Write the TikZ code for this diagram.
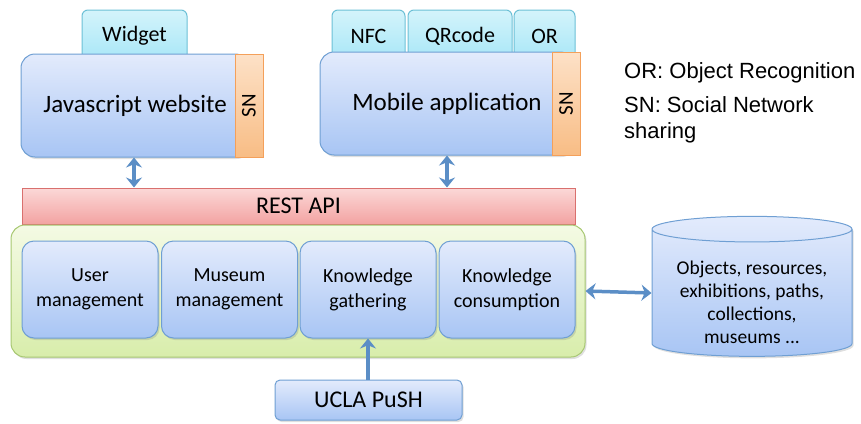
\documentclass[tikz,border=0pt]{standalone}
\usepackage{fontspec}
\setmainfont{Carlito}
\newfontfamily\legendfont{Liberation Sans}
\usetikzlibrary{shapes.geometric,arrows.meta,shadows}

\definecolor{boxtop}{HTML}{E3EBFC}
\definecolor{boxbot}{HTML}{A8C5F4}
\definecolor{boxedge}{HTML}{6F9FD3}
\definecolor{tabtop}{HTML}{D4F4FB}
\definecolor{tabbot}{HTML}{A6E6F7}
\definecolor{tabedge}{HTML}{6CC0D6}
\definecolor{sntop}{HTML}{FDE1C7}
\definecolor{snbot}{HTML}{F8BD85}
\definecolor{snedge}{HTML}{F4A05A}
\definecolor{resttop}{HTML}{FBD8D7}
\definecolor{restbot}{HTML}{F3A3A2}
\definecolor{restedge}{HTML}{D9706E}
\definecolor{coretop}{HTML}{F4FAE4}
\definecolor{corebot}{HTML}{D8EDAB}
\definecolor{coreedge}{HTML}{A7C871}
\definecolor{linkblue}{HTML}{5B8EC6}

\tikzset{
  softshadow/.style={drop shadow={opacity=0.25, shadow xshift=1.5pt, shadow yshift=-2pt}},
  bluebox/.style={draw=boxedge, top color=boxtop, bottom color=boxbot, line width=1pt,
    rounded corners=12pt, inner sep=0pt, align=center, softshadow},
  tabbox/.style={draw=tabedge, top color=tabtop, bottom color=tabbot, line width=1pt,
    rounded corners=6pt, inner sep=0pt, font=\fontsize{22}{26}\selectfont},
  snbox/.style={draw=snedge, top color=sntop, bottom color=snbot, line width=1pt,
    inner sep=0pt, minimum width=103, minimum height=28, font=\fontsize{21}{25}\selectfont},
  modulebox/.style={bluebox, minimum width=136, minimum height=97, font=\fontsize{20}{25}\selectfont},
  link/.style={<->, draw=linkblue, line width=3.5pt},
}

\begin{document}
\begin{tikzpicture}[x=1pt,y=-1pt,>={Stealth[length=10pt,width=16pt]}]
\useasboundingbox (0,0) rectangle (861,423);

% Tabs above the clients
\node[tabbox, minimum width=105, minimum height=52] (widget) at (134.5,36) {Widget};
\node[tabbox, minimum width=73, minimum height=52] (nfc) at (368.5,36) {NFC};
\node[tabbox, minimum width=104, minimum height=52] (qrcode) at (460,36) {QRcode};
\node[tabbox, minimum width=61, minimum height=52] (objrec) at (544.5,36) {OR};

% Clients
\node[bluebox, rounded corners=14pt, minimum width=228, minimum height=103,
  font=\fontsize{25}{30}\selectfont] (website) at (135,105.5) {Javascript website};
\node[snbox, rotate=90] (websn) at (249,105.5) {SN};
\node[bluebox, rounded corners=14pt, minimum width=254, minimum height=103,
  font=\fontsize{25}{30}\selectfont] (mobile) at (447,103.5) {Mobile application};
\node[snbox, rotate=90] (mobsn) at (566,103.5) {SN};

% Server
\node[draw=restedge, top color=resttop, bottom color=restbot, line width=1pt,
  minimum width=553, minimum height=36, inner sep=0pt,
  font=\fontsize{24}{28}\selectfont] (rest) at (298.5,206) {REST API};
\node[draw=coreedge, top color=coretop, bottom color=corebot, line width=1pt,
  rounded corners=14pt, minimum width=574, minimum height=132, softshadow] (core) at (298,291) {};
\node[modulebox] (user) at (90,289.5) {User\\management};
\node[modulebox] (museum) at (229.5,289.5) {Museum\\management};
\node[modulebox] (gather) at (368,289.5) {Knowledge\\gathering};
\node[modulebox] (consume) at (507,289.5) {Knowledge\\consumption};

\node[bluebox, rounded corners=5pt, minimum width=187, minimum height=40,
  font=\fontsize{24}{28}\selectfont] (push) at (368.5,400) {UCLA PuSH};

% Data store
\node[cylinder, shape border rotate=90, aspect=0.17, draw=boxedge, line width=1pt,
  top color=boxtop, bottom color=boxbot, minimum width=200, minimum height=140,
  inner sep=0pt, softshadow, font=\fontsize{19.5}{23}\selectfont]
  (store) at (752,293) {\raisebox{-11pt}[\height][\depth]{\begin{tabular}{@{}c@{}}Objects, resources,\\exhibitions, paths,\\collections,\\museums ...\end{tabular}}};

% Legend
\node[anchor=west, inner sep=0pt, font=\legendfont\fontsize{22}{26}\selectfont] (legor) at (624,73) {OR: Object Recognition};
\node[anchor=north west, inner sep=0pt, align=left, font=\legendfont\fontsize{22}{26}\selectfont]
  (legsn) at (624,96) {SN: Social Network\\sharing};

% Links
\draw[link] (website.south -| 134,0) -- (rest.north -| 134,0);
\draw[link] (mobile.south) -- (rest.north -| mobile.south);
\draw[->, draw=linkblue, line width=3.5pt] (push.north -| gather.south) -- (gather.south);
\draw[link] (core.east) -- (store.west);
\end{tikzpicture}
\end{document}
